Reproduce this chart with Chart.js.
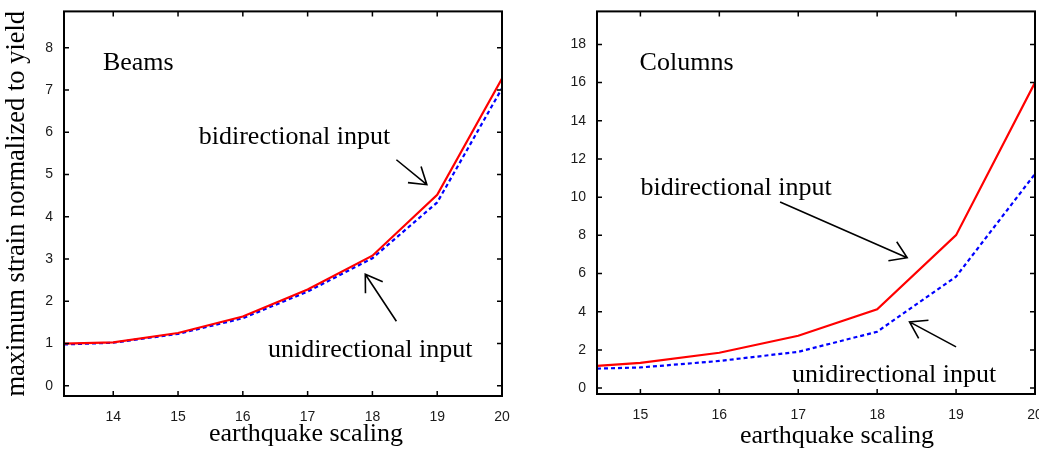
<!DOCTYPE html>
<html><head><meta charset="utf-8">
<script src="https://cdn.jsdelivr.net/npm/chart.js@4"></script>
<style>
html,body{margin:0;padding:0;width:1039px;height:450px;overflow:hidden;background:#fff}
#c1{position:absolute;left:0;top:0}
#c2{position:absolute;left:520px;top:0}
</style></head><body>
<canvas id="c1" width="520" height="450"></canvas>
<canvas id="c2" width="560" height="450"></canvas>
<script>
// ---- data ----
const beamsScaling = [13.24, 14, 15, 16, 17, 18, 19, 20];
const beamsBidirectional = [1.00, 1.03, 1.25, 1.64, 2.28, 3.08, 4.52, 7.27];
const beamsUnidirectional = [0.98, 1.02, 1.23, 1.60, 2.23, 3.02, 4.34, 7.04];
const beamsXTicks = [14, 15, 16, 17, 18, 19, 20];
const beamsYTicks = [0, 1, 2, 3, 4, 5, 6, 7, 8];

const columnsScaling = [14.45, 15, 16, 17, 18, 19, 20];
const columnsBidirectional = [1.16, 1.32, 1.85, 2.74, 4.13, 8.01, 16.0];
const columnsUnidirectional = [1.02, 1.08, 1.42, 1.90, 2.95, 5.84, 11.22];
const columnsXTicks = [15, 16, 17, 18, 19, 20];
const columnsYTicks = [0, 2, 4, 6, 8, 10, 12, 14, 16, 18];

const SERIF = '"Liberation Serif", "Times New Roman", serif';
const TICKFONT = {family: '"Liberation Sans", Arial, sans-serif', size: 14};

const pts = (xs, ys) => xs.map((x, i) => ({x: x, y: ys[i]}));

const decor = {
  id: 'decor',
  afterDraw(chart, args, opts) {
    const ctx = chart.ctx, a = chart.chartArea, xs = chart.scales.x, ys = chart.scales.y;
    ctx.save();
    ctx.strokeStyle = '#000';
    ctx.lineWidth = 1.5;
    ctx.beginPath();
    xs.ticks.forEach(t => {
      const px = xs.getPixelForValue(t.value);
      ctx.moveTo(px, a.bottom); ctx.lineTo(px, a.bottom - 5);
      ctx.moveTo(px, a.top); ctx.lineTo(px, a.top + 5);
    });
    ys.ticks.forEach(t => {
      const py = ys.getPixelForValue(t.value);
      ctx.moveTo(a.left, py); ctx.lineTo(a.left + 5, py);
      ctx.moveTo(a.right, py); ctx.lineTo(a.right - 5, py);
    });
    ctx.stroke();
    ctx.lineWidth = 2;
    ctx.strokeRect(a.left, a.top, a.right - a.left, a.bottom - a.top);

    ctx.fillStyle = '#000';
    ctx.font = '26px ' + SERIF;
    ctx.textAlign = 'left';
    ctx.textBaseline = 'alphabetic';
    (opts.labels || []).forEach(l => ctx.fillText(l.text, xs.getPixelForValue(l.x), ys.getPixelForValue(l.y)));

    ctx.lineWidth = 1.6;
    (opts.arrows || []).forEach(ar => {
      const x0 = xs.getPixelForValue(ar.from[0]), y0 = ys.getPixelForValue(ar.from[1]);
      const x1 = xs.getPixelForValue(ar.to[0]), y1 = ys.getPixelForValue(ar.to[1]);
      const ang = Math.atan2(y0 - y1, x0 - x1), h = 19, sp = 33 * Math.PI / 180;
      ctx.beginPath();
      ctx.moveTo(x0, y0); ctx.lineTo(x1, y1);
      ctx.moveTo(x1 + h * Math.cos(ang - sp), y1 + h * Math.sin(ang - sp));
      ctx.lineTo(x1, y1);
      ctx.lineTo(x1 + h * Math.cos(ang + sp), y1 + h * Math.sin(ang + sp));
      ctx.stroke();
    });

    if (opts.xTitle) {
      ctx.textAlign = 'center';
      ctx.fillText(opts.xTitle.text, (a.left + a.right) / 2 + opts.xTitle.shift, opts.xTitle.baseline);
    }
    ctx.restore();
  }
};

function makeChart(id, cfg) {
  return new Chart(document.getElementById(id), {
    type: 'line',
    data: {
      datasets: [
        {label: 'bidirectional input', data: pts(cfg.x, cfg.bi), borderColor: '#ff0000', borderWidth: 2.2, pointRadius: 0, tension: 0, fill: false},
        {label: 'unidirectional input', data: pts(cfg.x, cfg.uni), borderColor: '#0000ff', borderWidth: 2.2, borderDash: [4, 3], pointRadius: 0, tension: 0, fill: false}
      ]
    },
    options: {
      responsive: false,
      animation: false,
      devicePixelRatio: 1,
      layout: {padding: cfg.padding},
      plugins: {legend: {display: false}, tooltip: {enabled: false}, decor: cfg.decor},
      scales: {
        x: {
          type: 'linear', min: cfg.xMin, max: cfg.xMax,
          grid: {display: false}, border: {display: false},
          afterBuildTicks: s => { s.ticks = cfg.xTicks.map(v => ({value: v})); },
          afterFit: s => { s.height = cfg.xAxisHeight; },
          ticks: {font: TICKFONT, color: '#1a1a1a', padding: 5, maxRotation: 0, autoSkip: false, callback: v => String(v)}
        },
        y: {
          type: 'linear', min: cfg.yMin, max: cfg.yMax,
          grid: {display: false}, border: {display: false},
          afterBuildTicks: s => { s.ticks = cfg.yTicks.map(v => ({value: v})); },
          afterFit: s => { s.width = cfg.yAxisWidth; },
          ticks: {font: TICKFONT, color: '#1a1a1a', padding: 3, autoSkip: false, callback: v => String(v)},
          title: cfg.yTitle ? {display: true, text: cfg.yTitle, color: '#000', font: {family: SERIF, size: 26.5}, padding: {top: 1, bottom: 0}} : {display: false}
        }
      }
    },
    plugins: [decor]
  });
}

makeChart('c1', {
  x: beamsScaling, bi: beamsBidirectional, uni: beamsUnidirectional,
  xTicks: beamsXTicks, yTicks: beamsYTicks,
  xMin: 13.24, xMax: 20, yMin: -0.24, yMax: 8.86,
  padding: {left: 0, top: 10, right: 18, bottom: 0},
  xAxisHeight: 54, yAxisWidth: 64,
  yTitle: 'maximum strain normalized to yield',
  decor: {
    labels: [
      {text: 'Beams', x: 13.84, y: 7.47},
      {text: 'bidirectional input', x: 15.32, y: 5.73},
      {text: 'unidirectional input', x: 16.39, y: 0.68}
    ],
    arrows: [
      {from: [18.37, 5.35], to: [18.84, 4.76]},
      {from: [18.37, 1.53], to: [17.89, 2.64]}
    ],
    xTitle: {text: 'earthquake scaling', shift: 23, baseline: 440.5}
  }
});

makeChart('c2', {
  x: columnsScaling, bi: columnsBidirectional, uni: columnsUnidirectional,
  xTicks: columnsXTicks, yTicks: columnsYTicks,
  xMin: 14.45, xMax: 20, yMin: -0.31, yMax: 19.73,
  padding: {left: 0, top: 9, right: 45, bottom: 0},
  xAxisHeight: 56, yAxisWidth: 77,
  yTitle: null,
  decor: {
    labels: [
      {text: 'Columns', x: 14.99, y: 16.65},
      {text: 'bidirectional input', x: 15.0, y: 10.11},
      {text: 'unidirectional input', x: 16.92, y: 0.34}
    ],
    arrows: [
      {from: [16.77, 9.75], to: [18.38, 6.83]},
      {from: [19.0, 2.16], to: [18.41, 3.47]}
    ],
    xTitle: {text: 'earthquake scaling', shift: 21, baseline: 443}
  }
});
</script>
</body></html>
